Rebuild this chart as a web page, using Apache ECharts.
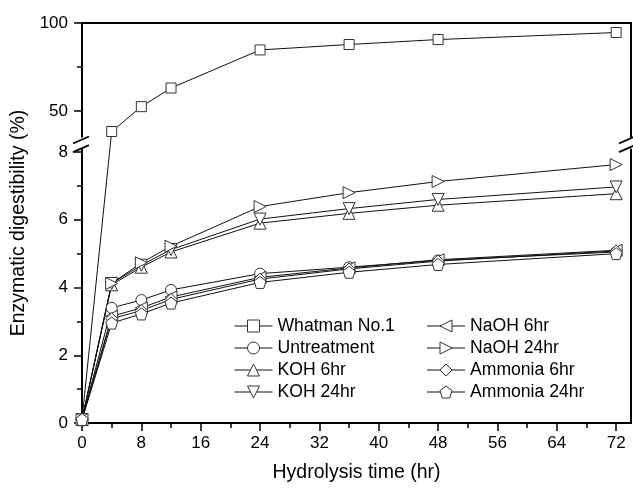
<!DOCTYPE html>
<html><head><meta charset="utf-8">
<script src="https://cdn.jsdelivr.net/npm/echarts@6/dist/echarts.min.js"></script>
<style>html,body{margin:0;padding:0;background:#fff}#c{width:633px;height:488px}</style>
</head><body><div id="c"></div>
<script>
// ---- data ----
const hours = [0, 4, 8, 12, 24, 36, 48, 72];
const whatman = [0.1, 38.4, 52.5, 63.1, 84.7, 87.8, 90.6, 94.6];
const untreatment = [0.1, 3.40, 3.63, 3.93, 4.41, 4.60, 4.80, 5.05];
const koh6 = [0.1, 4.08, 4.60, 5.05, 5.90, 6.19, 6.43, 6.77];
const koh24 = [0.1, 4.12, 4.66, 5.12, 6.02, 6.33, 6.60, 6.97];
const naoh6 = [0.1, 3.15, 3.40, 3.72, 4.30, 4.58, 4.82, 5.10];
const naoh24 = [0.1, 4.12, 4.73, 5.22, 6.39, 6.80, 7.13, 7.63];
const ammonia6 = [0.1, 3.08, 3.32, 3.65, 4.25, 4.55, 4.78, 5.08];
const ammonia24 = [0.1, 2.95, 3.22, 3.54, 4.15, 4.45, 4.68, 5.00];
const xTicks = [0, 8, 16, 24, 32, 40, 48, 56, 64, 72];
const xMinorTicks = [4, 12, 20, 28, 36, 44, 52, 60, 68];
const yTicksMajor = [0, 2, 4, 6, 8, 50, 100];
const yTicksMinor = [1, 3, 5, 7, 75];

// ---- broken y axis: lower segment 0..8.1, upper segment 35..100 (compressed) ----
const LOW_MAX = 8.1, UP_MIN = 35, UP_MAX = 100, K = 0.052, UP_BASE = 8.43;
const T = v => v <= LOW_MAX ? v : UP_BASE + (v - UP_MIN) * K;
const TMAX = T(UP_MAX);

const font = "'Liberation Sans', Arial, sans-serif";
const stroke = '#333';

function mk(name, vals, symbol, size, rot) {
  return {
    name, type: 'line',
    data: hours.map((h, i) => [h, T(vals[i])]),
    symbol, symbolSize: size, symbolRotate: rot || 0,
    itemStyle: { color: '#fff', borderColor: stroke, borderWidth: 1 },
    lineStyle: { color: '#111', width: 1 },
    emphasis: { disabled: true }
  };
}
const pentagon = 'path://M0,-1 L0.951,-0.309 L0.588,0.809 L-0.588,0.809 L-0.951,-0.309 Z';
const series = [
  mk('Whatman No.1', whatman, 'rect', 10),
  mk('Untreatment', untreatment, 'circle', 11),
  mk('KOH 6hr', koh6, 'triangle', 12),
  mk('KOH 24hr', koh24, 'triangle', 12, 180),
  mk('NaOH 6hr', naoh6, 'triangle', 12, 90),
  mk('NaOH 24hr', naoh24, 'triangle', 12, -90),
  mk('Ammonia 6hr', ammonia6, 'diamond', 12),
  mk('Ammonia 24hr', ammonia24, pentagon, 12)
];

const fmtY = v => {
  for (const t of yTicksMajor) if (Math.abs(T(t) - v) < 1e-6) return String(t);
  return '';
};

const chart = echarts.init(document.getElementById('c'), null, { renderer: 'canvas' });
const legendCommon = {
  orient: 'vertical', top: 312, itemWidth: 38, itemHeight: 15, itemGap: 4,
  textStyle: { fontSize: 17.6, color: '#000', fontFamily: font },
  lineStyle: { width: 1, color: '#111' },
  itemStyle: { color: '#fff', borderColor: stroke, borderWidth: 1 },
  selectedMode: false
};
chart.setOption({
  animation: false,
  backgroundColor: '#fff',
  grid: { left: 82, right: 2, top: 23, bottom: 61, show: true, borderColor: '#000', borderWidth: 2 },
  xAxis: [
    {
      type: 'value', min: 0, max: 74, name: 'Hydrolysis time (hr)', nameLocation: 'middle', nameGap: 40,
      nameTextStyle: { fontSize: 19.5, color: '#000', fontFamily: font },
      axisLine: { lineStyle: { color: '#000', width: 2 } },
      axisTick: { customValues: xTicks, length: 8, lineStyle: { color: '#000', width: 1.5 } },
      axisLabel: { customValues: xTicks, margin: 12, fontSize: 17, color: '#000', fontFamily: font },
      splitLine: { show: false }
    },
    {
      type: 'value', min: 0, max: 74, position: 'bottom',
      axisLine: { show: false },
      axisTick: { customValues: xMinorTicks, length: 5, lineStyle: { color: '#000', width: 1.5 } },
      axisLabel: { show: false }, splitLine: { show: false }
    }
  ],
  yAxis: [
    {
      type: 'value', min: 0, max: TMAX, name: 'Enzymatic digestibility (%)', nameLocation: 'middle', nameGap: 51,
      nameTextStyle: { fontSize: 19.5, color: '#000', fontFamily: font },
      axisLine: { show: true, lineStyle: { color: '#000', width: 2 } },
      axisTick: { customValues: yTicksMajor.map(T), length: 8, lineStyle: { color: '#000', width: 1.5 } },
      axisLabel: { customValues: yTicksMajor.map(T), formatter: fmtY, margin: 14, fontSize: 17, color: '#000', fontFamily: font },
      splitLine: { show: false }
    },
    {
      type: 'value', min: 0, max: TMAX, position: 'left',
      axisLine: { show: false },
      axisTick: { show: true, customValues: yTicksMinor.map(T), length: 5, lineStyle: { color: '#000', width: 1.5 } },
      axisLabel: { show: false }, splitLine: { show: false }
    }
  ],
  legend: [
    Object.assign({ left: 229, data: series.slice(0, 4).map(s => s.name) }, legendCommon),
    Object.assign({ left: 421.5, data: series.slice(4).map(s => s.name) }, legendCommon)
  ],
  series
});

// break marks on both vertical frame lines, positioned from the axis scale
const pL = chart.convertToPixel({ gridIndex: 0 }, [0, LOW_MAX]);
const pU = chart.convertToPixel({ gridIndex: 0 }, [74, T(UP_MIN)]);
const axL = pL[0], axR = pU[0], yBot = pL[1], yTop = pU[1];
const lineSt = { stroke: '#000', lineWidth: 1.8 };
function slash(cx, cy) {
  return { type: 'line', z: 101, shape: { x1: cx - 8, y1: cy + 3.5, x2: cx + 8, y2: cy - 3.5 }, style: lineSt };
}
chart.setOption({
  graphic: [
    { type: 'rect', z: 100, shape: { x: axL - 5, y: yTop, width: 10, height: yBot - yTop }, style: { fill: '#fff' } },
    { type: 'rect', z: 100, shape: { x: axR - 5, y: yTop, width: 10, height: yBot - yTop }, style: { fill: '#fff' } },
    slash(axL - 1, yTop + 2.5), slash(axL - 1, yBot),
    slash(axR - 4, yTop + 2.5), slash(axR - 4, yBot)
  ]
});
</script>
</body></html>
